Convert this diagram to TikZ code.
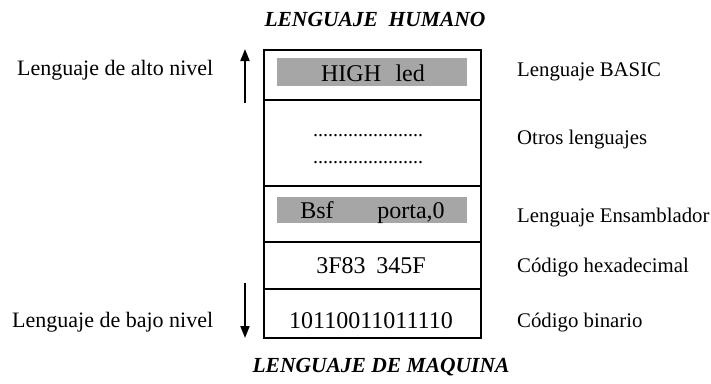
\documentclass[tikz,border=0pt]{standalone}
\usepackage{fontspec}
\setmainfont{Liberation Serif}
\usetikzlibrary{arrows.meta}
\definecolor{barfill}{RGB}{166,166,166}
\begin{document}
\begin{tikzpicture}[x=1pt,y=-1pt,
  row/.style={draw,line width=1.8pt,minimum width=217pt,inner sep=0pt,anchor=north west},
  bar/.style={fill=barfill,minimum width=190pt,inner sep=0pt,anchor=north west},
  body/.style={font=\fontsize{24}{28}\selectfont,inner sep=0pt,anchor=base},
  dots/.style={font=\fontsize{20}{22}\selectfont,inner sep=0pt,anchor=base west},
  lbl/.style={font=\fontsize{20.8}{24}\selectfont,inner sep=0pt,anchor=base west},
  sidelbl/.style={lbl,font=\fontsize{22}{26}\selectfont},
  heading/.style={font=\fontsize{21.5}{24}\selectfont\bfseries\itshape,inner sep=0pt,anchor=base},
  level/.style={line width=1.8pt,-{Triangle[length=12pt,width=9pt]}}]
\useasboundingbox (0,0) rectangle (711,383);

% headings
\node[heading] (top) at (375,26) {LENGUAJE\ \ HUMANO};
\node[heading] (bottom) at (381,372) {LENGUAJE DE MAQUINA};

% stack of levels
\node[row,minimum height=50pt] (r1) at (263,49) {};
\node[row,minimum height=86pt] (r2) at (263,99) {};
\node[row,minimum height=56pt] (r3) at (263,185) {};
\node[row,minimum height=47pt] (r4) at (263,241) {};
\node[row,minimum height=49pt] (r5) at (263,288) {};

% shaded instruction bars
\node[bar,minimum height=28pt] (b1) at (277,58) {};
\node[bar,minimum height=26pt] (b3) at (277,197) {};

% row contents
\node[body] (t1) at (373,81) {HIGH\hspace{0.6em}led};
\node[dots] (d1) at (313,136) {......................};
\node[dots] (d2) at (313,163) {......................};
\node[body] (t3a) at (317,218) {Bsf};
\node[body] (t3b) at (411,218) {porta,0};
\node[body] (t4) at (371,273) {3F83\hspace{0.45em}345F};
\node[body] (t5) at (371,328) {10110011011110};

% right-hand descriptions
\node[lbl] (l1) at (517,76) {Lenguaje BASIC};
\node[lbl] (l2) at (517,144) {Otros lenguajes};
\node[lbl] (l3) at (517,222) {Lenguaje Ensamblador};
\node[lbl] (l4) at (517,272) {Código hexadecimal};
\node[lbl] (l5) at (517,327) {Código binario};

% left-hand level labels
\node[sidelbl] (hi) at (17,75) {Lenguaje de alto nivel};
\node[sidelbl] (lo) at (12,327) {Lenguaje de bajo nivel};

% direction arrows
\coordinate (upS) at (245,103);
\coordinate (upE) at (245,49);
\coordinate (dnS) at (245,283);
\coordinate (dnE) at (245,338);
\draw[level] (upS) -- (upE);
\draw[level] (dnS) -- (dnE);
\end{tikzpicture}
\end{document}
